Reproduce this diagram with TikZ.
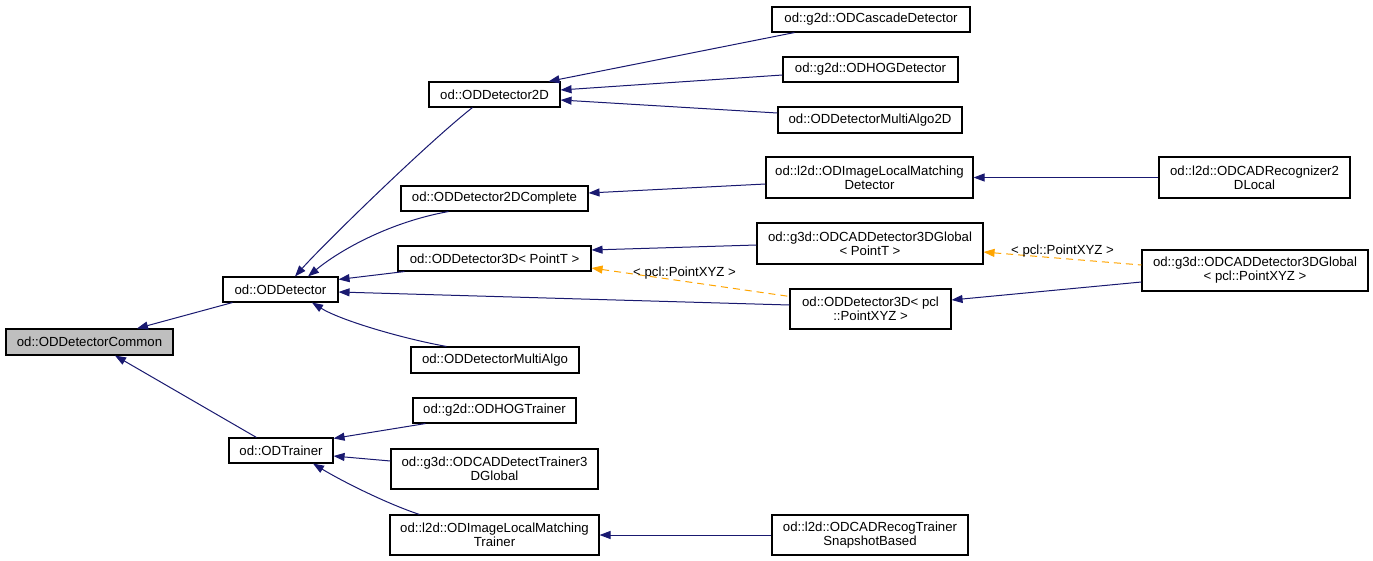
\documentclass[tikz,border=0pt]{standalone}
\usepackage{fontspec}
\setmainfont{Liberation Sans}
\usetikzlibrary{arrows.meta}
\definecolor{edgeblue}{HTML}{191970}
\definecolor{edgeorange}{HTML}{FFA500}
\definecolor{commonfill}{HTML}{BFBFBF}
\tikzset{
  cls/.style={draw=black, line width=1.1pt, inner sep=0pt, align=center, fill=white,
    font=\fontsize{13.2}{14}\selectfont},
  inh/.style={draw=edgeblue, line width=1pt, {Triangle[length=11pt,width=8pt]}-},
  tmpl/.style={draw=edgeorange, line width=1pt, dash pattern=on 7pt off 5pt,
    {Triangle[length=11pt,width=8pt]}-},
  lbl/.style={font=\fontsize{13.2}{14}\selectfont, inner sep=0pt, text=black}
}
\begin{document}
\begin{tikzpicture}[x=1pt,y=-1pt]
\fill[white] (0,0) rectangle (1373,560);
\useasboundingbox (0,0) rectangle (1373,560);

% column 0 / 1
\node[cls, fill=commonfill, minimum width=167pt, minimum height=26pt] (common) at (89.5,342) {od::ODDetectorCommon};
\node[cls, minimum width=115pt, minimum height=25pt] (det) at (280.5,289.5) {od::ODDetector};
\node[cls, minimum width=104pt, minimum height=25pt] (trainer) at (281,450.5) {od::ODTrainer};

% column 2
\node[cls, minimum width=131pt, minimum height=25pt] (det2d) at (494.5,94.5) {od::ODDetector2D};
\node[cls, minimum width=187pt, minimum height=25pt] (det2dc) at (494.5,198.5) {od::ODDetector2DComplete};
\node[cls, minimum width=193pt, minimum height=25pt] (det3dT) at (494.5,258.5) {od::ODDetector3D< PointT >};
\node[cls, minimum width=168pt, minimum height=26pt] (multi) at (495,360) {od::ODDetectorMultiAlgo};
\node[cls, minimum width=163pt, minimum height=25pt] (hogtr) at (494.5,410.5) {od::g2d::ODHOGTrainer};
\node[cls, minimum width=207pt, minimum height=40pt] (cadtr) at (494.5,469) {od::g3d::ODCADDetectTrainer3\\DGlobal};
\node[cls, minimum width=209pt, minimum height=40pt] (lmtr) at (494.5,535) {od::l2d::ODImageLocalMatching\\Trainer};

% column 3
\node[cls, minimum width=198pt, minimum height=25pt] (cascade) at (871,19.5) {od::g2d::ODCascadeDetector};
\node[cls, minimum width=175pt, minimum height=25pt] (hogdet) at (870.5,69.5) {od::g2d::ODHOGDetector};
\node[cls, minimum width=184pt, minimum height=26pt] (multi2d) at (870,120) {od::ODDetectorMultiAlgo2D};
\node[cls, minimum width=207pt, minimum height=41pt] (lmdet) at (869.5,177.5) {od::l2d::ODImageLocalMatching\\Detector};
\node[cls, minimum width=226pt, minimum height=41pt] (cad3dT) at (870,243.5) {od::g3d::ODCADDetector3DGlobal\\< PointT >};
\node[cls, minimum width=161pt, minimum height=40pt] (det3dpcl) at (870.5,309) {od::ODDetector3D< pcl\\::PointXYZ >};
\node[cls, minimum width=196pt, minimum height=40pt] (snap) at (870,535) {od::l2d::ODCADRecogTrainer\\SnapshotBased};

% column 4
\node[cls, minimum width=191pt, minimum height=41pt] (recog) at (1254.5,177.5) {od::l2d::ODCADRecognizer2\\DLocal};
\node[cls, minimum width=226pt, minimum height=41pt] (cadpcl) at (1255,270.5) {od::g3d::ODCADDetector3DGlobal\\< pcl::PointXYZ >};

% inheritance edges
\draw[inh] ([xshift=47.5pt]common.north) -- ([xshift=10pt]det.south west);
\draw[inh] ([xshift=25.5pt]common.south) -- ([xshift=28pt]trainer.north west);

\draw[inh] ([xshift=14.5pt]det.north) .. controls (322,246) and (425,145) .. ([xshift=44pt]det2d.south west);
\draw[inh] ([xshift=27.5pt]det.north) .. controls (340,250) and (390,222) .. ([xshift=48pt]det2dc.south west);
\draw[inh] ([yshift=-3pt]det.north east) -- ([xshift=7pt]det3dT.south west);
\draw[inh] ([yshift=-2.5pt]det.east) -- ([yshift=4pt]det3dpcl.west);
\draw[inh] ([xshift=31.5pt]det.south) .. controls (340,320) and (400,338) .. ([xshift=36pt]multi.north west);

\draw[inh] ([xshift=-12pt]det2d.north east) -- ([xshift=23pt]cascade.south west);
\draw[inh] ([yshift=4.5pt]det2d.east) -- ([yshift=-5.5pt]hogdet.west);
\draw[inh] ([yshift=-5.5pt]det2d.east) -- ([yshift=7pt]multi2d.west);

\draw[inh] ([yshift=5.5pt]det2dc.east) -- ([yshift=-6.5pt]lmdet.west);
\draw[inh] (lmdet.east) -- (recog.west);

\draw[inh] ([yshift=8.5pt]det3dT.east) -- ([yshift=-1.5pt]cad3dT.west);
\draw[tmpl] ([yshift=-9.5pt]det3dT.east) -- node[lbl, pos=0.47, above=2pt] (lab1) {< pcl::PointXYZ >} ([yshift=-8pt]det3dpcl.north west);

\draw[inh] ([yshift=9pt]det3dpcl.east) -- ([yshift=-11.5pt]cadpcl.west);
\draw[tmpl] ([yshift=-8.5pt]cad3dT.east) -- node[lbl, pos=0.5, above=1pt] (lab2) {< pcl::PointXYZ >} ([yshift=5.5pt]cadpcl.west);

\draw[inh] ([yshift=-1pt]trainer.north east) -- ([xshift=13pt]hogtr.south west);
\draw[inh] ([yshift=-5.5pt]trainer.east) -- ([yshift=8pt]cadtr.west);
\draw[inh] ([xshift=32pt]trainer.south) .. controls (340,480) and (385,503) .. ([xshift=30pt]lmtr.north west);
\draw[inh] (lmtr.east) -- (snap.west);
\end{tikzpicture}
\end{document}
